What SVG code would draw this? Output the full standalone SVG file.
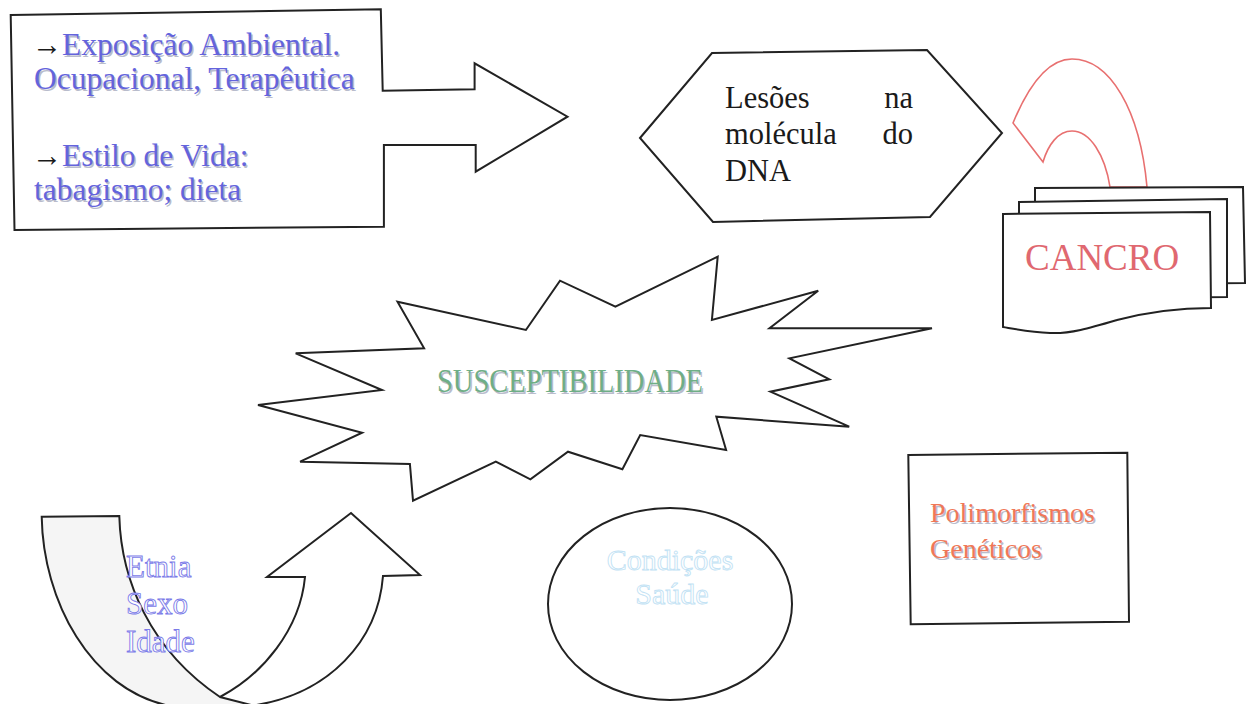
<svg xmlns="http://www.w3.org/2000/svg" width="1249" height="704" viewBox="0 0 1249 704">
<style>
.shape{fill:#fff;stroke:#222;stroke-width:2;stroke-linejoin:miter}
.serif{font-family:"Liberation Serif","Times New Roman",serif}
.blue{fill:#6464dc}
.shadow{fill:#b9bccc}
.blk{fill:#1a1a1a}
.green{fill:#6fae86}
.orange{fill:#f07858}
.red{fill:#e06870}
.outblue{fill:#fff;stroke:#7b7be8;stroke-width:0.9}
.outcyan{fill:#fff;stroke:#c2e2f4;stroke-width:0.9}
</style>
<rect width="1249" height="704" fill="#fff"/>

<g id="exposicao">
<path class="shape" d="M10.7,15 L380.8,9.3 L382.7,90.7 L474.6,89.3 L474.6,63.3 L567.5,116.7 L475.7,171.7 L475.7,145 L383.9,145 L383.9,226.7 L14.5,230 Z"/>
<g class="serif" font-size="31.5">
<g class="shadow" transform="translate(1.5,1.5)">
<text x="62" y="55">Exposição Ambiental.</text>
<text x="34" y="89">Ocupacional, Terapêutica</text>
<text x="62" y="166">Estilo de Vida:</text>
<text x="34" y="200">tabagismo; dieta</text>
</g>
<text x="32" y="55" class="blk" textLength="30" lengthAdjust="spacingAndGlyphs">→</text>
<text x="62" y="55" class="blue">Exposição Ambiental.</text>
<text x="34" y="89" class="blue">Ocupacional, Terapêutica</text>
<text x="32" y="166" class="blk" textLength="30" lengthAdjust="spacingAndGlyphs">→</text>
<text x="62" y="166" class="blue">Estilo de Vida:</text>
<text x="34" y="200" class="blue">tabagismo; dieta</text>
</g>
</g>

<g id="lesoes">
<path class="shape" d="M640,138 L712,53 L927,50 L1002,133 L930,217 L713,222 Z"/>
<g class="serif blk" font-size="30.5">
<text x="725" y="108">Lesões</text>
<text x="913" y="108" text-anchor="end">na</text>
<text x="725" y="144">molécula</text>
<text x="913" y="144" text-anchor="end">do</text>
<text x="725" y="181">DNA</text>
</g>
</g>

<g id="cancro">
<path d="M1013,123 C1030,82 1050,59 1072,59 C1110,59 1140,110 1147,187 L1110,187 C1105,155 1090,131 1072,131 C1058,131 1048,145 1043,162 Z" fill="#fff" stroke="#e87070" stroke-width="1.6"/>
<path class="shape" d="M1035,188 L1243,187 L1245,283 L1035,285 Z"/>
<path class="shape" d="M1019,202 L1227,199 L1227,297 L1019,299 Z"/>
<path class="shape" d="M1003,214 L1210,212 L1211,308 C1170,308 1140,314 1117,320 C1090,328 1070,334 1050,333 C1030,332 1015,329 1003,327 Z"/>
<text x="1025" y="270" class="serif red" font-size="37">CANCRO</text>
</g>

<g id="susceptibilidade">
<path class="shape" d="M258,405 L382,390 L295.7,353.3 L424.1,348.3 L397.5,301.7 L525.9,330 L560,280.7 L615.4,306.7 L717.7,256.7 L711.9,320 L818.2,290.7 L769.5,328.3 L932,328.3 L789.4,358.3 L829.3,379.3 L770.4,391.7 L849.2,426.7 L716.3,416.7 L726.1,450 L640.2,435 L622.4,469.3 L568,451.7 L530.4,479.3 L495.8,461.7 L413,500.7 L409.9,464 L300.1,461.7 L362.1,432.7 Z"/>
<text x="438.5" y="393.5" class="serif shadow" font-size="33" textLength="266" lengthAdjust="spacingAndGlyphs">SUSCEPTIBILIDADE</text>
<text x="437" y="392" class="serif green" font-size="33" textLength="266" lengthAdjust="spacingAndGlyphs">SUSCEPTIBILIDADE</text>
</g>

<g id="etnia">
<path d="M41.7,516.7 L119.3,516 C121,580 150,650 220,697 L255,706 L170,706 C90,690 43,600 41.7,516.7 Z" fill="#f5f5f5" stroke="#222" stroke-width="2"/>
<path d="M220,697 C262,675 300,630 305,577 L267,577 L351,513 L420,575 L383,576 C378,640 330,695 250,706" fill="none" stroke="#222" stroke-width="2"/>
<g class="serif outblue" font-size="31">
<text x="126" y="577">Etnia</text>
<text x="126" y="614">Sexo</text>
<text x="126" y="652">Idade</text>
</g>
</g>

<g id="condicoes">
<ellipse class="shape" cx="670" cy="604" rx="122" ry="96"/>
<g class="serif outcyan" font-size="30" text-anchor="middle">
<text x="670" y="570">Condições</text>
<text x="672" y="604">Saúde</text>
</g>
</g>

<g id="polimorfismos">
<path class="shape" d="M908.3,455 L1127.3,452.7 L1129,621.7 L910.7,624.3 Z"/>
<g class="serif" font-size="28">
<g class="shadow" transform="translate(1.5,1.5)">
<text x="930" y="522">Polimorfismos</text>
<text x="930" y="558">Genéticos</text>
</g>
<text x="930" y="522" class="orange">Polimorfismos</text>
<text x="930" y="558" class="orange">Genéticos</text>
</g>
</g>

<g id="connectors"/>
</svg>
